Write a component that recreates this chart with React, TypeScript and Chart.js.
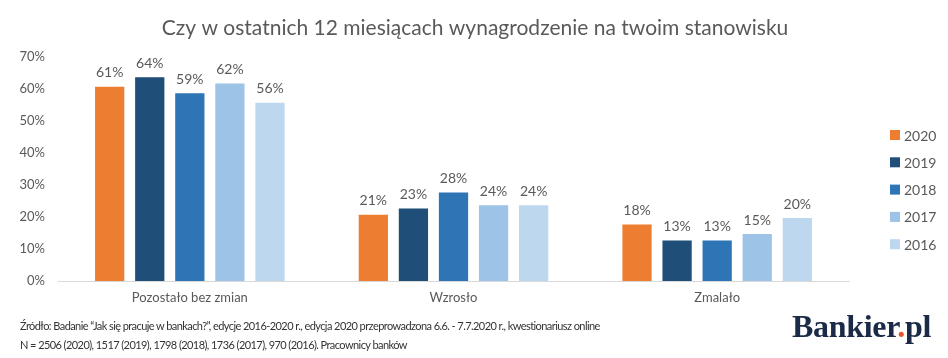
import React, { useEffect, useRef } from "react";
import { Chart, registerables } from "chart.js";

Chart.register(...registerables);

const categories = ["Pozostało bez zmian", "Wzrosło", "Zmalało"];
const years = ["2020", "2019", "2018", "2017", "2016"];
const v2020 = [61, 21, 18];
const v2019 = [64, 23, 13];
const v2018 = [59, 28, 13];
const v2017 = [62, 24, 15];
const v2016 = [56, 24, 20];
const seriesValues = [v2020, v2019, v2018, v2017, v2016];
const colors = ["#ED7D31", "#1F4E79", "#2E75B6", "#9DC3E6", "#BDD7EE"];
const yTicks = [0, 10, 20, 30, 40, 50, 60, 70];
const title = "Czy w ostatnich 12 miesiącach wynagrodzenie na twoim stanowisku";
const source1 = "Źródło: Badanie “Jak się pracuje w bankach?”, edycje 2016-2020 r., edycja 2020 przeprowadzona 6.6. - 7.7.2020 r., kwestionariusz online";
const source2 = "N = 2506 (2020), 1517 (2019), 1798 (2018), 1736 (2017), 970 (2016). Pracownicy banków";

const FONT = "Lato, 'Open Sans', sans-serif";
const TEXT = "#595959";

const overlayPlugin = {
  id: "overlay",
  afterDatasetsDraw(chart: any) {
    const ctx = chart.ctx;
    ctx.save();
    // data labels
    ctx.font = `14px ${FONT}`;
    ctx.fillStyle = TEXT;
    ctx.textAlign = "center";
    ctx.textBaseline = "bottom";
    chart.data.datasets.forEach((ds: any, i: number) => {
      const meta = chart.getDatasetMeta(i);
      meta.data.forEach((el: any, j: number) => {
        ctx.fillText(ds.data[j] + "%", el.x, el.y - 6);
      });
    });
    // title
    ctx.font = `21px ${FONT}`;
    ctx.textBaseline = "middle";
    ctx.fillText(title, 475, 28);
    // legend
    ctx.font = `14px ${FONT}`;
    ctx.textAlign = "left";
    const startY = 135;
    const step = 27.3;
    chart.data.datasets.forEach((ds: any, i: number) => {
      const y = startY + i * step;
      ctx.fillStyle = ds.backgroundColor;
      ctx.fillRect(890, y - 5, 10, 10);
      ctx.fillStyle = TEXT;
      ctx.fillText(ds.label, 904, y + 1);
    });
    ctx.restore();
  },
};

export default function App() {
  const ref = useRef<HTMLCanvasElement | null>(null);
  useEffect(() => {
    document.body.style.margin = "0";
    const canvas = ref.current!;
    const chart = new Chart(canvas, {
      type: "bar",
      data: {
        labels: categories,
        datasets: years.map((y, i) => ({
          label: y,
          data: seriesValues[i],
          backgroundColor: colors[i],
          borderColor: "rgba(255,255,255,0.35)",
          borderWidth: 1,
          categoryPercentage: 0.76,
          barPercentage: 0.78,
        })),
      },
      options: {
        animation: false,
        responsive: false,
        maintainAspectRatio: false,
        layout: { padding: { top: 57, right: 99, bottom: 47, left: 0 } },
        plugins: {
          legend: { display: false },
          title: { display: false },
          tooltip: { enabled: false },
        },
        scales: {
          x: {
            grid: { display: false, drawTicks: false },
            border: { display: true, color: "#D9D9D9", width: 1 },
            ticks: { color: TEXT, font: { family: FONT, size: 13 }, padding: 9 },
            afterFit: (s: any) => { s.height = 30; },
          },
          y: {
            min: 0,
            max: 70,
            grid: { display: false, drawTicks: false },
            border: { display: false },
            afterBuildTicks: (s: any) => { s.ticks = yTicks.map((v) => ({ value: v })); },
            ticks: {
              color: TEXT,
              font: { family: FONT, size: 13 },
              padding: 13,
              callback: (v: any) => v + "%",
            },
            afterFit: (s: any) => { s.width = 58; },
          },
        },
      },
      plugins: [overlayPlugin],
    });
    return () => chart.destroy();
  }, []);

  return (
    <div style={{ position: "relative", width: 948, height: 358, background: "#fff", overflow: "hidden" }}>
      <canvas ref={ref} width={948} height={358} style={{ display: "block" }} />
      <div style={{ position: "absolute", left: 20, top: 319, fontFamily: FONT, fontSize: 11, color: "#333333", whiteSpace: "nowrap", letterSpacing: -0.57 }}>
        {source1}
      </div>
      <div style={{ position: "absolute", left: 20, top: 338, fontFamily: FONT, fontSize: 11, color: "#333333", whiteSpace: "nowrap", letterSpacing: -0.57 }}>
        {source2}
      </div>
      <div style={{ position: "absolute", left: 792, top: 308, fontFamily: "'Liberation Serif', serif", fontWeight: 700, fontSize: 32, color: "#1B2A47", whiteSpace: "nowrap", letterSpacing: -0.3 }}>
        Bankier<span style={{ color: "#E8552C" }}>.</span>pl
      </div>
    </div>
  );
}
